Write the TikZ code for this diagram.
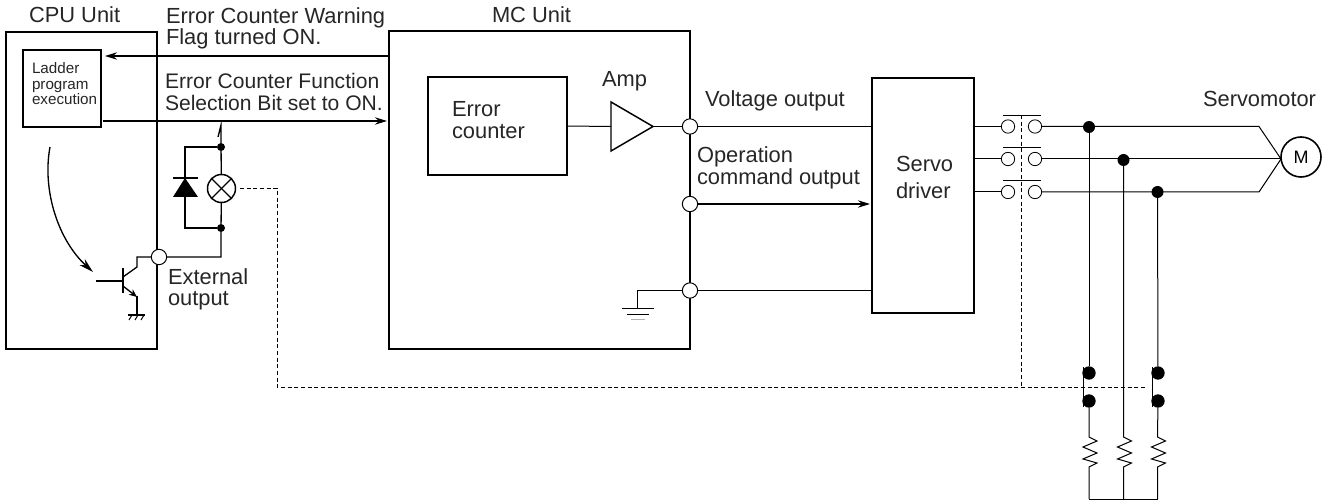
\documentclass[tikz,border=0pt]{standalone}
\usepackage{fontspec}
\setmainfont{Liberation Sans}
\usetikzlibrary{calc, positioning}
\usetikzlibrary{arrows.meta}

\def\px{0.75pt}
\tikzset{
  unitbox/.style={draw, line width=1.5pt, minimum width=#1, inner sep=0pt, outer sep=0pt},
  thinline/.style={line width=0.75pt},
  sigline/.style={line width=1pt},
  tipline/.style={line width=1pt, -{Stealth[length=9pt, width=5.5pt]}},
  dashline/.style={line width=0.6pt, dash pattern=on 3pt off 2pt},
  port/.style={circle, draw, fill=white, line width=0.75pt, minimum size=11.5pt, inner sep=0pt, outer sep=0pt},
  contact/.style={circle, draw, fill=white, line width=0.6pt, minimum size=10pt, inner sep=0pt, outer sep=0pt},
  joint/.style={circle, fill=black, minimum size=#1, inner sep=0pt, outer sep=0pt},
  joint/.default=6pt,
  lbl/.style={anchor=base west, inner sep=0pt, outer sep=0pt, font=\fontsize{16.4}{16.4}\selectfont, text=black!85},
  sellbl/.style={lbl, font=\fontsize{15.8}{15.8}\selectfont},
  smalllbl/.style={lbl, font=\fontsize{11.4}{11.4}\selectfont},
}

\begin{document}
\begin{tikzpicture}[x=\px, y=-\px]
\useasboundingbox (0,0) rectangle (1332,502);

% boxes
\node[unitbox=151*\px, minimum height=317*\px] (cpu) at (81.5,190.5) {};
\node[unitbox=78*\px, minimum height=77*\px] (ladder) at (62,88.5) {};
\node[unitbox=301*\px, minimum height=318*\px] (mc) at (539.5,190) {};
\node[unitbox=139*\px, minimum height=98*\px] (errcnt) at (497.5,126) {};
\node[unitbox=102*\px, minimum height=235*\px] (servo) at (923,195.5) {};

% labels
\node[lbl] (cpulbl) at (29,23) {CPU Unit};
\node[lbl] (mclbl) at (492,23) {MC Unit};
\node[lbl] (warn1) at (166,24) {Error Counter Warning};
\node[lbl] (warn2) at (166,45) {Flag turned ON.};
\node[sellbl] (sel1) at (165,89) {Error Counter Function};
\node[sellbl] (sel2) at (165,111) {Selection Bit set to ON.};
\node[smalllbl] (lad1) at (32,74) {Ladder};
\node[smalllbl] (lad2) at (32,90) {program};
\node[smalllbl] (lad3) at (32,105) {execution};
\node[lbl] (ext1) at (168,285) {External};
\node[lbl] (ext2) at (168,306) {output};
\node[lbl] (err1) at (452,117) {Error};
\node[lbl] (err2) at (452,139) {counter};
\node[lbl] (amplbl) at (602,87) {Amp};
\node[lbl] (voltlbl) at (705,107) {Voltage output};
\node[lbl] (op1) at (697,163) {Operation};
\node[lbl] (op2) at (697,185) {command output};
\node[lbl] (srv1) at (896,172) {Servo};
\node[lbl] (srv2) at (896,199) {driver};
\node[lbl] (motlbl) at (1203,107) {Servomotor};

% CPU to MC signals
\coordinate (warnin) at (105,56);
\coordinate (selout) at (103,121);
\draw[tipline] (mc.west |- warnin) -- (warnin);
\draw[tipline] (selout) -- ($(mc.west |- selout)+(-2,0)$);
\draw[line width=1pt, -{Stealth[length=11pt, width=6pt]}] (50,147) .. controls (42,190) and (58,240) .. (93,272);

% transistor
\coordinate (tbase) at (96,281);
\coordinate (tbar) at (123,281);
\coordinate (tcol) at (137,257);
\coordinate (temit) at (137,314);
\node[port] (extport) at (159,257) {};
\draw[sigline] (tbase) -- (tbar);
\draw[line width=1.5pt] (123,268) -- (123,293);
\draw[sigline] (123,277) -- (137,267) -- (tcol) -- (extport);
\draw[sigline, -{Stealth[length=6pt, width=5pt]}] (123,286) -- (137,297);
\draw[sigline] (137,296) -- (temit);
\draw[sigline] (128,315) -- (145,315);
\foreach \x in {132,138,144} {
  \draw[thinline] (\x,315) -- (\x-3,320);
}

% lamp and diode
\coordinate (jbot) at (221,257);
\coordinate (ltop) at (221,133);
\coordinate (ltip) at (221,125);
\node[joint] (ja) at (221,147) {};
\node[joint] (jb) at (221,228) {};
\node[circle, draw, fill=white, line width=1.1pt, minimum size=21pt, inner sep=0pt, outer sep=0pt] (lamp) at (221.5,188.5) {};
\draw[sigline] (extport) -- (jbot) -- (jb) -- (lamp);
\draw[sigline] (lamp) -- (ja) -- (ltop);
\draw[sigline] (218,137) -- (ltip) -- (ltop);
\draw[sigline] (lamp.north west) -- (lamp.south east);
\draw[sigline] (lamp.north east) -- (lamp.south west);
\coordinate (dtop) at (185,147);
\coordinate (dbot) at (185,228);
\draw[sigline] (ja) -- (dtop) -- (dbot) -- (jb);
\fill (185,178) -- (198,197) -- (173,197) -- cycle;
\draw[sigline] (173,178) -- (198,178);

% amp
\coordinate (ampin) at (611,126.5);
\coordinate (ampout) at (653,126.5);
\draw[thinline] (errcnt.east) -- (ampin);
\draw[line width=1.1pt, line join=miter] (611,102) -- (ampout) -- (611,151) -- cycle;

% outputs
\node[port] (vport) at (690,126.5) {};
\node[port] (oport) at (690,204) {};
\node[port] (gport) at (690,290.5) {};
\draw[thinline] (ampout) -- (vport);
\draw[thinline] (vport) -- (servo.west |- vport);
\draw[tipline] (oport) -- ($(servo.west |- oport)+(-2,0)$);
\draw[thinline] (gport) -- (servo.west |- gport);
\coordinate (gnd) at (637,309);
\draw[thinline] (gport) -- (637,290.5) -- (gnd);
\draw[thinline] (622,309) -- (654,309);
\draw[thinline] (627,315) -- (649,315);
\draw[thinline, black!30] (631,320) -- (645,320);

% dashed link
\coordinate (dstart) at (240,188);
\coordinate (dturn) at (277,188);
\coordinate (dcorner) at (277,387);
\coordinate (dend) at (1147,387);
\coordinate (dup) at (1021,115);
\draw[dashline] (dstart) -- (dturn) -- (dcorner) -- (dend);
\draw[dashline] (dup) -- (1021,387);

% motor
\node[circle, draw, fill=white, line width=1.2pt, minimum size=30pt, inner sep=0pt, outer sep=0pt, font=\fontsize{13.5}{13.5}\selectfont] (motor) at (1301,157) {M};
\coordinate (mtop) at (1259,126.5);
\coordinate (mbot) at (1259,192);
\coordinate (mwest) at (1281,159);

% contacts and phase lines
\foreach \y/\nm in {126.5/a,159/b,192/c} {
  \node[contact] (cl\nm) at (1008,\y) {};
  \node[contact] (cr\nm) at (1035,\y) {};
  \draw[thinline] (servo.east |- cl\nm) -- (cl\nm);
  \draw[thinline] (1003,\y-11) -- (1041,\y-11);
}
\draw[thinline] (cra) -- (mtop) -- (mwest);
\draw[thinline] (crb) -- (mwest);
\draw[thinline] (crc) -- (mbot) -- (mwest);

% resistors
\node[joint=9pt] (ta) at (1089,127) {};
\node[joint=9pt] (tb) at (1123.5,160) {};
\node[joint=9pt] (tc) at (1157.5,192) {};
\node[joint=10pt] (sa1) at (1089,373) {};
\node[joint=10pt] (sa2) at (1089,401) {};
\node[joint=10pt] (sc1) at (1158,373) {};
\node[joint=10pt] (sc2) at (1158,401) {};
\draw[thinline] (1083,367) -- (1083,407);
\draw[thinline] (1152,367) -- (1152,407);
\draw[thinline] (ta) -- (sa1);
\draw[thinline] (tc) -- (sc1);
\foreach \x/\top in {1089/sa2,1123.5/tb,1157.5/sc2} {
  \draw[thinline] (\top) -- (\x,437) -- (\x+8,441) -- (\x-6,447) -- (\x+8,453) -- (\x-6,459) -- (\x+8,463) -- (\x,467) -- (\x,499);
}
\draw[thinline] (1089,499) -- (1157.5,499);

\end{tikzpicture}
\end{document}
